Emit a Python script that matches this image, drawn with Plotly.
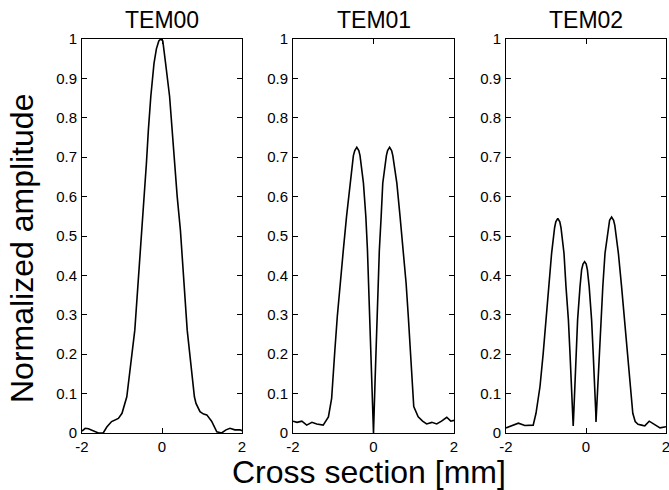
import plotly.graph_objects as go

# ---- data ----
titles = ["TEM00", "TEM01", "TEM02"]

tem00_x = [-2.0, -1.92, -1.84, -1.76, -1.65, -1.59, -1.47, -1.38, -1.26, -1.17, -1.09, -1.0,
           -0.93, -0.88, -0.68, -0.5, -0.45, -0.39, -0.34, -0.28, -0.2, -0.14, -0.08, -0.03,
           0.02, 0.055, 0.09, 0.19, 0.25, 0.31, 0.38, 0.46, 0.63, 0.81, 0.85, 0.95, 1.04,
           1.12, 1.24, 1.37, 1.49, 1.6, 1.7, 1.82, 1.95, 2.0]
tem00_y = [0.005, 0.012, 0.011, 0.008, 0.002, 0.0, 0.0, 0.015, 0.029, 0.033, 0.037, 0.05,
           0.075, 0.092, 0.261, 0.515, 0.6, 0.684, 0.77, 0.854, 0.938, 0.975, 0.995, 1.0,
           0.995, 0.97, 0.938, 0.854, 0.77, 0.684, 0.6, 0.515, 0.261, 0.092, 0.075, 0.054, 0.048,
           0.046, 0.03, 0.003, 0.0, 0.008, 0.012, 0.008, 0.008, 0.006]

tem01_x = [-2.0, -1.9, -1.78, -1.66, -1.53, -1.41, -1.25, -1.12, -1.04, -1.01, -0.96, -0.9,
           -0.83, -0.75, -0.67, -0.58, -0.5, -0.465, -0.415, -0.365, -0.335, -0.25, -0.19,
           -0.15, -0.12, -0.095, -0.07, -0.045, 0.0, 0.037, 0.062, 0.087, 0.11, 0.145, 0.19,
           0.23, 0.32, 0.35, 0.4, 0.45, 0.48, 0.58, 0.66, 0.74, 0.81, 0.865, 0.91, 0.96, 1.0,
           1.11, 1.22, 1.32, 1.45, 1.57, 1.69, 1.82, 1.92, 2.0]
tem01_y = [0.03, 0.027, 0.03, 0.02, 0.027, 0.023, 0.02, 0.041, 0.088, 0.126, 0.21, 0.295,
           0.38, 0.464, 0.549, 0.634, 0.704, 0.717, 0.725, 0.717, 0.704, 0.634, 0.549,
           0.464, 0.38, 0.295, 0.21, 0.126, 0.0, 0.126, 0.21, 0.295, 0.38, 0.464, 0.549,
           0.634, 0.704, 0.717, 0.725, 0.717, 0.704, 0.634, 0.549, 0.464, 0.38, 0.295, 0.21,
           0.126, 0.067, 0.041, 0.03, 0.023, 0.027, 0.023, 0.03, 0.04, 0.03, 0.032]

tem02_x = [-2.0, -1.82, -1.69, -1.53, -1.4, -1.32, -1.25, -1.15, -1.07, -1.0, -0.93, -0.86,
           -0.785, -0.755, -0.705, -0.655, -0.625, -0.55, -0.5, -0.44, -0.4, -0.36, -0.33,
           -0.32, -0.31, -0.28, -0.25, -0.21, -0.15, -0.11, -0.075, -0.035, 0.005, 0.035,
           0.08, 0.14, 0.18, 0.225, 0.245, 0.25, 0.26, 0.29, 0.33, 0.37, 0.42, 0.475, 0.56,
           0.59, 0.64, 0.69, 0.72, 0.81, 0.89, 0.96, 1.03, 1.1, 1.17, 1.23, 1.3, 1.39, 1.47,
           1.58, 1.72, 1.85, 2.0]
tem02_y = [0.013, 0.02, 0.025, 0.019, 0.02, 0.02, 0.05, 0.118, 0.202, 0.287, 0.371, 0.456,
           0.521, 0.536, 0.545, 0.536, 0.521, 0.456, 0.371, 0.287, 0.202, 0.118, 0.04,
           0.018, 0.04, 0.118, 0.202, 0.287, 0.371, 0.414, 0.429, 0.435, 0.429, 0.414,
           0.371, 0.287, 0.202, 0.118, 0.05, 0.028, 0.05, 0.118, 0.202, 0.287, 0.371, 0.456,
           0.527, 0.54, 0.548, 0.54, 0.527, 0.456, 0.371, 0.287, 0.202, 0.118, 0.05, 0.029,
           0.022, 0.02, 0.018, 0.03, 0.02, 0.013, 0.016]

xs = [tem00_x, tem01_x, tem02_x]
ys = [tem00_y, tem01_y, tem02_y]

x_ticks = [-2, 0, 2]
y_ticks = [0, 0.1, 0.2, 0.3, 0.4, 0.5, 0.6, 0.7, 0.8, 0.9, 1]
y_ticklabels = ["0", "0.1", "0.2", "0.3", "0.4", "0.5", "0.6", "0.7", "0.8", "0.9", "1"]

W, H = 669, 490
x_domains = [[82 / W, 242 / W], [293 / W, 454 / W], [506 / W, 666 / W]]
y_domain = [1 - 433 / H, 1 - 39 / H]

FONT = "Liberation Sans, Arial, sans-serif"

fig = go.Figure()
for i in range(3):
    sfx = "" if i == 0 else str(i + 1)
    fig.add_trace(go.Scatter(x=xs[i], y=ys[i], mode="lines",
                             line=dict(color="black", width=1.6),
                             xaxis="x" + sfx, yaxis="y" + sfx, showlegend=False))
    axcommon = dict(showline=True, linecolor="black", linewidth=1, mirror="ticks",
                    ticks="inside", ticklen=5, tickcolor="black", tickwidth=1,
                    showgrid=False, zeroline=False, automargin=False,
                    ticklabeloverflow="allow",
                    tickfont=dict(family=FONT, size=15, color="black"))
    fig.layout["xaxis" + sfx] = dict(domain=x_domains[i], range=[-2, 2],
                                     anchor="y" + sfx, tickvals=x_ticks,
                                     ticktext=[str(t) for t in x_ticks], **axcommon)
    fig.layout["yaxis" + sfx] = dict(domain=y_domain, range=[0, 1],
                                     anchor="x" + sfx, tickvals=y_ticks,
                                     ticktext=y_ticklabels, ticklabelstandoff=1, **axcommon)
    fig.add_annotation(text=titles[i], xref="paper", yref="paper",
                       x=sum(x_domains[i]) / 2, y=1 - 20 / H, showarrow=False,
                       xanchor="center", yanchor="middle",
                       font=dict(family=FONT, size=23, color="black"))

fig.add_annotation(text="Cross section [mm]", xref="paper", yref="paper",
                   x=369 / W, y=1 - 472 / H, showarrow=False,
                   xanchor="center", yanchor="middle",
                   font=dict(family=FONT, size=32, color="black"))
fig.add_annotation(text="Normalized amplitude", xref="paper", yref="paper",
                   x=22 / W, y=1 - 249 / H, showarrow=False, textangle=-90,
                   xanchor="center", yanchor="middle",
                   font=dict(family=FONT, size=32, color="black"))

fig.update_layout(width=W, height=H, margin=dict(l=0, r=0, t=0, b=0),
                  paper_bgcolor="white", plot_bgcolor="white")
fig.write_html("out.html")
